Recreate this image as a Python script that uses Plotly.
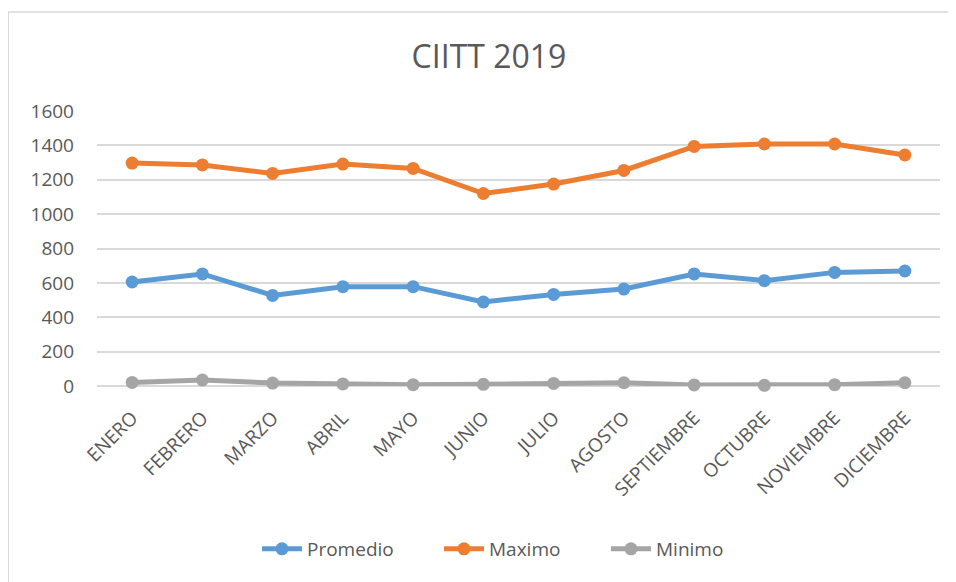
import plotly.graph_objects as go

months = ["ENERO", "FEBRERO", "MARZO", "ABRIL", "MAYO", "JUNIO", "JULIO",
          "AGOSTO", "SEPTIEMBRE", "OCTUBRE", "NOVIEMBRE", "DICIEMBRE"]
promedio = [605, 652, 527, 578, 578, 489, 533, 564, 652, 613, 661, 669]
maximo = [1297, 1286, 1237, 1291, 1266, 1120, 1175, 1254, 1394, 1408, 1408, 1344]
minimo = [21, 35, 17, 12, 8, 10, 15, 19, 6, 4, 8, 19]
y_ticks = [0, 200, 400, 600, 800, 1000, 1200, 1400, 1600]

OFF = 8  # page body margin
W, H = 956 - OFF, 582 - OFF
L = 97 - OFF
R = W - (940 - OFF)
T = 111 - OFF
B = H - (386 - OFF)
pw, ph = W - L - R, H - T - B

def px_x(px):  # screen px -> paper
    return (px - OFF - L) / pw

def px_y(py):
    return (H - (py - OFF) - B) / ph

FONT = "Open Sans"
TXT = "#595959"

series = [("Promedio", promedio, "#5B9BD5", "legend", 308),
          ("Maximo", maximo, "#ED7D31", "legend2", 490),
          ("Minimo", minimo, "#A5A5A5", "legend3", 657)]

fig = go.Figure()
legends = {}
for name, vals, col, lg, tx in series:
    fig.add_trace(go.Scatter(
        x=months, y=vals, name=name, mode="lines+markers",
        line=dict(color=col, width=5),
        marker=dict(color=col, size=13),
        cliponaxis=False, legend=lg,
    ))
    legends[lg] = dict(orientation="h", x=px_x(tx - 51), xanchor="left",
                       y=px_y(549), yanchor="middle",
                       font=dict(family=FONT, size=19, color=TXT),
                       itemwidth=40, bgcolor="rgba(0,0,0,0)")

fig.update_layout(
    width=W, height=H,
    margin=dict(l=L, r=R, t=T, b=B),
    paper_bgcolor="white", plot_bgcolor="white",
    font=dict(family=FONT, color=TXT, size=19),
    title=dict(text="CIITT 2019", x=(489 - OFF) / W, xanchor="center",
               y=1 - (57 - OFF) / H, yanchor="middle",
               font=dict(family=FONT, size=32, color=TXT)),
    showlegend=True,
    xaxis=dict(type="category", range=[-0.5, 11.5], showgrid=False,
               showline=False, zeroline=False, ticks="",
               tickangle=-45, tickfont=dict(size=19, color=TXT),
               ticklabelstandoff=16),
    yaxis=dict(range=[0, 1600], tickvals=y_ticks, showgrid=True,
               gridcolor="#D9D9D9", gridwidth=1.8, zeroline=True,
               zerolinecolor="#D9D9D9", zerolinewidth=1.8,
               showline=False, ticks="", tickfont=dict(size=19, color=TXT),
               ticklabelstandoff=22),
    shapes=[
        dict(type="line", xref="paper", yref="paper",
             x0=px_x(8), x1=px_x(8), y0=px_y(12), y1=px_y(600),
             line=dict(color="#D9D9D9", width=2)),
        dict(type="line", xref="paper", yref="paper",
             x0=px_x(8), x1=px_x(970), y0=px_y(12), y1=px_y(12),
             line=dict(color="#D9D9D9", width=1.5)),
    ],
    **legends,
)

fig.write_html("out.html")
